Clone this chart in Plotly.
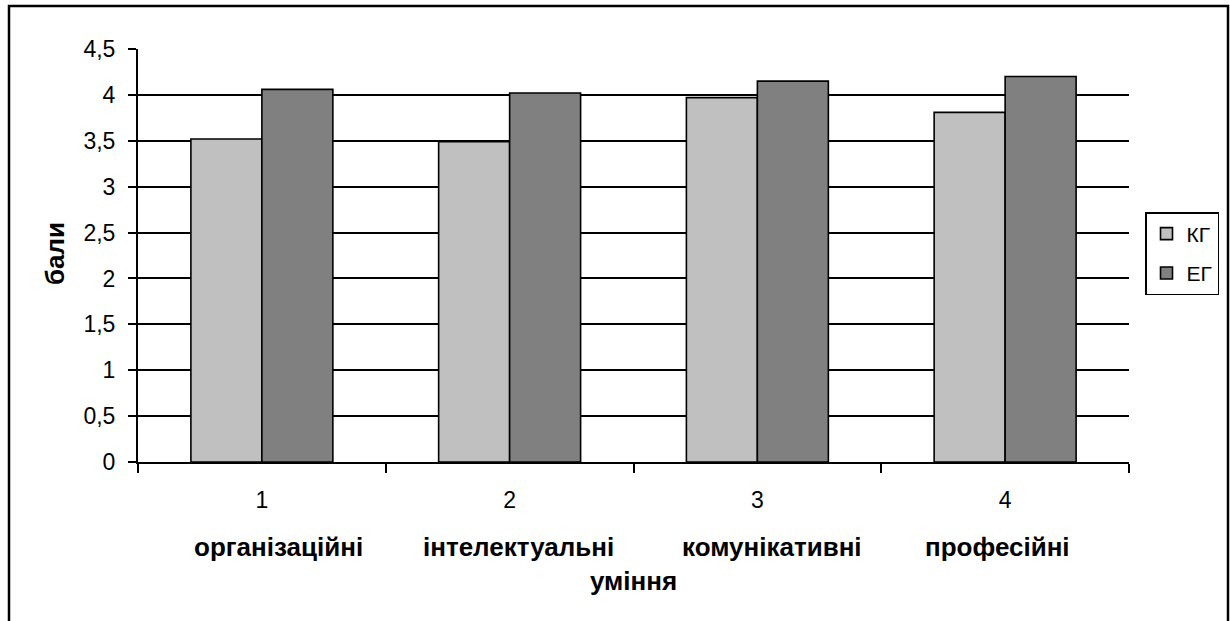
import plotly.graph_objects as go

# Середні бали сформованості умінь
categories = ["1", "2", "3", "4"]
skill_names = ["організаційні", "інтелектуальні", "комунікативні", "професійні"]
kg_values = [3.52, 3.49, 3.97, 3.81]
eg_values = [4.06, 4.02, 4.15, 4.20]
y_ticks = [0, 0.5, 1, 1.5, 2, 2.5, 3, 3.5, 4, 4.5]
y_tick_labels = ["0", "0,5", "1", "1,5", "2", "2,5", "3", "3,5", "4", "4,5"]

FONT = "Liberation Sans, Arial, sans-serif"

# plot area in pixels: x 138..1129, y 49..462
W, H = 1230, 621
L, R, T, B = 138, 101, 49, 159
pw, ph = W - L - R, H - T - B


def px_x(px):
    return (px - L) / pw


def px_y(py):
    return (H - B - py) / ph


fig = go.Figure()
fig.add_trace(go.Bar(
    x=categories, y=kg_values, name="КГ", legendgroup="kg",
    marker=dict(color="#C0C0C0", line=dict(color="black", width=1.6)),
))
fig.add_trace(go.Bar(
    x=categories, y=eg_values, name="ЕГ", legendgroup="eg",
    marker=dict(color="#808080", line=dict(color="black", width=1.6)),
))

annotations = []
name_shifts = [17, 9, 15, -8]
for i, (name, dx) in enumerate(zip(skill_names, name_shifts)):
    annotations.append(dict(
        x=i, xref="x", y=px_y(547), yref="paper",
        text="<b>%s</b>" % name, showarrow=False, xshift=dx,
        xanchor="center", yanchor="middle",
        font=dict(family=FONT, size=26, color="black"),
    ))
annotations.append(dict(
    x=0.5, xref="paper", y=px_y(581), yref="paper",
    text="<b>уміння</b>", showarrow=False, xanchor="center", yanchor="middle",
    font=dict(family=FONT, size=26, color="black"),
))
annotations.append(dict(
    x=px_x(55), xref="paper", y=px_y(254), yref="paper",
    text="<b>бали</b>", showarrow=False, textangle=-90,
    xanchor="center", yanchor="middle",
    font=dict(family=FONT, size=26, color="black"),
))

fig.update_layout(
    width=W, height=H,
    margin=dict(l=L, r=R, t=T, b=B, autoexpand=False),
    paper_bgcolor="white", plot_bgcolor="white",
    barmode="group", bargap=0.427, bargroupgap=0,
    font=dict(family=FONT, size=23, color="black"),
    showlegend=True,
    legend=dict(
        x=px_x(1219), xanchor="right", y=px_y(212), yanchor="top",
        bordercolor="black", borderwidth=1.5, bgcolor="white",
        font=dict(family=FONT, size=21, color="black"),
        traceorder="grouped", tracegroupgap=9,
        itemwidth=30,
    ),
    xaxis=dict(
        type="category", range=[-0.5, 3.5],
        showgrid=False, showline=True, linecolor="black",
        linewidth=2, ticks="outside", tickson="boundaries", ticklen=9,
        tickwidth=2, tickcolor="black", ticklabelstandoff=16,
        tickfont=dict(family=FONT, size=23, color="black"),
        fixedrange=True,
    ),
    yaxis=dict(
        range=[0, 4.5], tickvals=y_ticks, ticktext=y_tick_labels,
        showgrid=True, gridcolor="black", gridwidth=1.6, zeroline=False,
        showline=True, linecolor="black", linewidth=2,
        ticks="outside", ticklen=8, tickwidth=2, tickcolor="black",
        ticklabelstandoff=8,
        tickfont=dict(family=FONT, size=23, color="black"),
        fixedrange=True,
    ),
    annotations=annotations,
    shapes=[dict(
        type="rect", xref="paper", yref="paper",
        x0=px_x(9), x1=px_x(1228), y0=px_y(660), y1=px_y(6),
        line=dict(color="black", width=2.5), fillcolor="rgba(0,0,0,0)",
        layer="below",
    )],
)

fig.write_html("out.html", config=dict(displayModeBar=False))
